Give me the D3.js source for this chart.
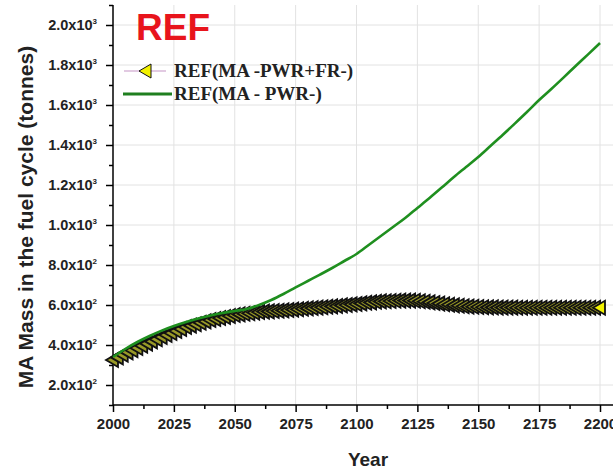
<!DOCTYPE html>
<html>
<head>
<meta charset="utf-8">
<script src="https://cdn.jsdelivr.net/npm/d3@7"></script>
<style>
  body { margin: 0; background: #fff; }
  svg { display: block; }
</style>
</head>
<body>
<div class="vis-chart"></div>
<script>
// MA -PWR+FR- series (triangle markers, every 2 years)
const frYears = [
    2000, 2002, 2004, 2006, 2008, 2010, 2012, 2014, 2016, 2018,
    2020, 2022, 2024, 2026, 2028, 2030, 2032, 2034, 2036, 2038,
    2040, 2042, 2044, 2046, 2048, 2050, 2052, 2054, 2056, 2058,
    2060, 2062, 2064, 2066, 2068, 2070, 2072, 2074, 2076, 2078,
    2080, 2082, 2084, 2086, 2088, 2090, 2092, 2094, 2096, 2098,
    2100, 2102, 2104, 2106, 2108, 2110, 2112, 2114, 2116, 2118,
    2120, 2122, 2124, 2126, 2128, 2130, 2132, 2134, 2136, 2138,
    2140, 2142, 2144, 2146, 2148, 2150, 2152, 2154, 2156, 2158,
    2160, 2162, 2164, 2166, 2168, 2170, 2172, 2174, 2176, 2178,
    2180, 2182, 2184, 2186, 2188, 2190, 2192, 2194, 2196, 2198,
    2200
];
const frValues = [
    325, 338, 351, 363, 374, 385, 396, 407, 418, 429,
    440, 450, 460, 470, 480, 490, 497, 504, 511, 518,
    525, 530, 535, 540, 545, 550, 553, 556, 559, 562,
    565, 567, 568, 570, 571, 573, 575, 577, 579, 581,
    583, 585, 587, 589, 591, 593, 595, 598, 600, 603,
    605, 608, 611, 613, 616, 618, 619, 620, 621, 622,
    622, 622, 621, 619, 616, 613, 610, 607, 604, 601,
    598, 596, 594, 592, 591, 590, 589, 588, 588, 587,
    587, 587, 587, 586, 586, 586, 586, 586, 586, 586,
    586, 586, 586, 586, 586, 586, 586, 586, 586, 586,
    586
];

// MA - PWR- series (green line, every 5 years)
const pwrYears = [
    2000, 2005, 2010, 2015, 2020, 2025, 2030, 2035, 2040, 2045,
    2050, 2055, 2060, 2065, 2070, 2075, 2080, 2085, 2090, 2095,
    2100, 2105, 2110, 2115, 2120, 2125, 2130, 2135, 2140, 2145,
    2150, 2155, 2160, 2165, 2170, 2175, 2180, 2185, 2190, 2195,
    2200
];
const pwrValues = [
    340, 380, 415, 445, 472, 495, 515, 533, 548, 560,
    570, 580, 600, 625, 655, 688, 720, 752, 785, 820,
    855, 900, 945, 990, 1035, 1085, 1135, 1187, 1240, 1290,
    1340, 1395, 1450, 1507, 1565, 1625, 1680, 1737, 1795, 1852,
    1910
];

const xTicks = [2000, 2025, 2050, 2075, 2100, 2125, 2150, 2175, 2200];
const yTicks = [200, 400, 600, 800, 1000, 1200, 1400, 1600, 1800, 2000];
const seriesNames = ['REF(MA -PWR+FR-)', 'REF(MA - PWR-)'];

const W = 613, H = 469;
const margin = { top: 5, right: 13, bottom: 65, left: 113 };

const svg = d3.select('.vis-chart')
    .append('svg')
    .attr('width', W)
    .attr('height', H);

const x = d3.scaleLinear().domain([2000, 2200]).range([margin.left, 600]);
const y = d3.scaleLinear().domain([100, 2100]).range([405, margin.top]);

// grid
const grid = svg.append('g').attr('stroke', '#e2e2e2').attr('stroke-width', 1);
grid.selectAll('.gx').data(xTicks.slice(1)).enter().append('line')
    .attr('x1', d => x(d)).attr('x2', d => x(d))
    .attr('y1', y(2100)).attr('y2', y(100));
grid.selectAll('.gy').data(yTicks).enter().append('line')
    .attr('x1', x(2000)).attr('x2', W)
    .attr('y1', d => y(d)).attr('y2', d => y(d));

// axes
const fontSans = 'Liberation Sans, Arial, sans-serif';

const xAxis = d3.axisBottom(x).tickValues(xTicks).tickSize(7).tickFormat(d3.format('d'));
const xMinor = d3.axisBottom(x).tickValues(xTicks.slice(0, -1).map(d => d + 12.5)).tickSize(4).tickFormat('');
const gx = svg.append('g').attr('transform', 'translate(0,' + y(100) + ')').call(xAxis);
svg.append('g').attr('transform', 'translate(0,' + y(100) + ')').call(xMinor)
    .call(g => g.select('.domain').remove());
gx.select('.domain').attr('d', 'M' + x(2000) + ',0H' + W);
gx.selectAll('.tick text')
    .attr('y', 13)
    .style('font', 'bold 15px ' + fontSans)
    .attr('fill', '#222');

const yAxis = d3.axisLeft(y).tickValues(yTicks).tickSize(7).tickFormat('');
const yMinor = d3.axisLeft(y).tickValues(yTicks.map(d => d - 100).concat([2100])).tickSize(4).tickFormat('');
const gy = svg.append('g').attr('transform', 'translate(' + x(2000) + ',0)').call(yAxis);
svg.append('g').attr('transform', 'translate(' + x(2000) + ',0)').call(yMinor)
    .call(g => g.select('.domain').remove());
gy.select('.domain').attr('d', 'M0,' + y(100) + 'V' + margin.top);
svg.selectAll('.tick line').attr('stroke', '#000').attr('stroke-width', 1.5);
svg.selectAll('.domain').attr('stroke', '#000').attr('stroke-width', 1.5);

// y tick labels like 2.0x10^3
const yLab = svg.append('g');
yTicks.forEach(v => {
    const exp = v >= 1000 ? 3 : 2;
    const mant = (v / Math.pow(10, exp)).toFixed(1);
    const t = yLab.append('text')
        .attr('x', 97)
        .attr('y', y(v) + 5)
        .attr('text-anchor', 'end')
        .style('font', 'bold 14.5px ' + fontSans)
        .attr('fill', '#222');
    t.append('tspan').text(mant + 'x10');
    t.append('tspan').attr('dy', -6).style('font-size', '8px').text(exp);
});

// triangle series
const tri = 'M-7,0L5,-7L5,7Z';
const frData = frYears.map((d, i) => ({ year: d, value: frValues[i] }));
const pwrData = pwrYears.map((d, i) => ({ year: d, value: pwrValues[i] }));

svg.append('path')
    .datum(frData)
    .attr('fill', 'none')
    .attr('stroke', '#d8b8d8')
    .attr('stroke-width', 1.5)
    .attr('d', d3.line().x(d => x(d.year)).y(d => y(d.value)));

svg.selectAll('.marker')
    .data(frData)
    .enter().append('path')
    .attr('class', 'marker')
    .attr('d', tri)
    .attr('transform', d => 'translate(' + x(d.year) + ',' + y(d.value) + ')')
    .attr('fill', (d, i) => i === frData.length - 1 ? '#f2f200' : '#9a9a28')
    .attr('stroke', '#111')
    .attr('stroke-width', 1.8);

// green line
svg.append('path')
    .datum(pwrData)
    .attr('fill', 'none')
    .attr('stroke', '#1f8f1f')
    .attr('stroke-width', 2.6)
    .attr('d', d3.line().curve(d3.curveMonotoneX).x(d => x(d.year)).y(d => y(d.value)));

// REF title
svg.append('text')
    .attr('x', 136)
    .attr('y', 40)
    .style('font', 'bold 37px ' + fontSans)
    .attr('fill', '#e8141c')
    .text('REF');

// legend
const legend = svg.append('g');
legend.append('line')
    .attr('x1', 124).attr('x2', 166).attr('y1', 71).attr('y2', 71)
    .attr('stroke', '#d8b8d8').attr('stroke-width', 1.5);
legend.append('path')
    .attr('d', tri)
    .attr('transform', 'translate(146,71)')
    .attr('fill', '#f2f200').attr('stroke', '#111').attr('stroke-width', 1);
legend.append('line')
    .attr('x1', 123).attr('x2', 172).attr('y1', 94).attr('y2', 94)
    .attr('stroke', '#1f7f1f').attr('stroke-width', 3);
legend.selectAll('.ltext')
    .data(seriesNames)
    .enter().append('text')
    .attr('x', 174)
    .attr('y', (d, i) => 77 + i * 22.5)
    .style('font', 'bold 19px Liberation Serif, Times New Roman, serif')
    .attr('fill', '#222')
    .text(d => d);

// axis titles
svg.append('text')
    .attr('transform', 'translate(33,217) rotate(-90)')
    .attr('text-anchor', 'middle')
    .style('font', 'bold 21px ' + fontSans)
    .attr('fill', '#222')
    .text('MA Mass in the fuel cycle (tonnes)');

svg.append('text')
    .attr('x', 368)
    .attr('y', 466)
    .attr('text-anchor', 'middle')
    .style('font', 'bold 19px ' + fontSans)
    .attr('fill', '#222')
    .text('Year');
</script>
</body>
</html>
